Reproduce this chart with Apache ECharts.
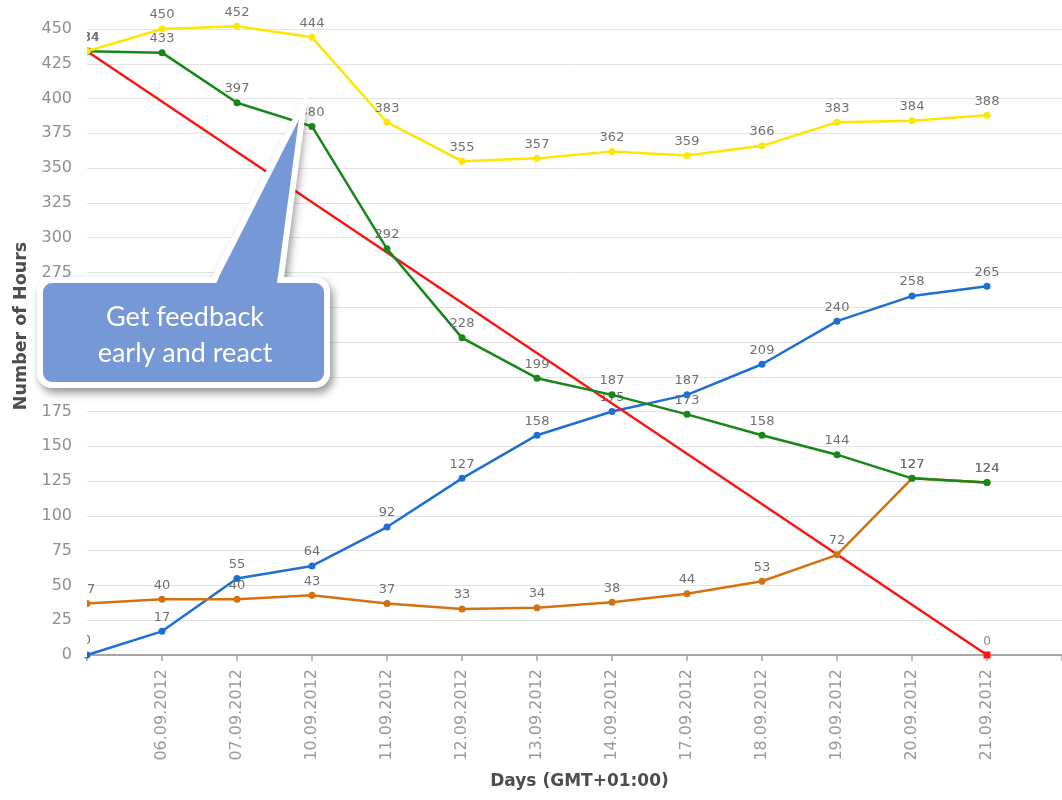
<!DOCTYPE html>
<html>
<head>
<meta charset="utf-8">
<script src="https://cdn.jsdelivr.net/npm/echarts@6/dist/echarts.min.js"></script>
<style>
  html, body { margin: 0; padding: 0; background: #fff; }
  #chart { width: 1062px; height: 800px; }
</style>
</head>
<body>
<div id="chart"></div>
<script>
// Sprint days (working days only); trailing blank slot lets the axis run on past the last day
const days = ['05.09.2012', '06.09.2012', '07.09.2012', '10.09.2012', '11.09.2012', '12.09.2012',
  '13.09.2012', '14.09.2012', '17.09.2012', '18.09.2012', '19.09.2012', '20.09.2012', '21.09.2012', ''];

// Ideal burndown: straight line from the starting estimate to zero
const idealHours = [434, null, null, null, null, null, null, null, null, null, null, null, 0];
// Hours still remaining
const remainingHours = [434, 433, 397, 380, 292, 228, 199, 187, 173, 158, 144, 127, 124];
// Total estimated hours
const estimatedHours = [434, 450, 452, 444, 383, 355, 357, 362, 359, 366, 383, 384, 388];
// Hours spent so far
const spentHours = [0, 17, 55, 64, 92, 127, 158, 175, 187, 209, 240, 258, 265];
// Hours outside the plan
const extraHours = [37, 40, 40, 43, 37, 33, 34, 38, 44, 53, 72, 127, 124];

const Y_MIN = 0, Y_MAX = 450, Y_STEP = 25;

const GRID_LEFT = 87, GRID_TOP = 29, GRID_H = 626, STEP_X = 75.82;

const BUBBLE_FILL = '#7698d6';
const BUBBLE_SHADOW = {
  shadowBlur: 9,
  shadowColor: 'rgba(0,0,0,0.42)',
  shadowOffsetX: 3,
  shadowOffsetY: 5
};

const labelStyle = {
  show: true,
  position: 'top',
  distance: 4,
  color: '#707070',
  fontFamily: 'DejaVu Sans',
  fontSize: 13
};

function lineSeries(name, data, color, z, extra) {
  return Object.assign({
    name: name,
    type: 'line',
    data: data,
    z: z,
    clip: false,
    symbol: 'circle',
    symbolSize: 7,
    lineStyle: { color: color, width: 2.5 },
    itemStyle: { color: color },
    label: labelStyle,
    emphasis: { disabled: true },
    animation: false
  }, extra || {});
}

const chart = echarts.init(document.getElementById('chart'), null, { renderer: 'canvas' });

const pointer = [[212, 284], [304, 103], [280, 284]];

chart.setOption({
  backgroundColor: '#ffffff',
  animation: false,
  grid: {
    left: GRID_LEFT,
    top: GRID_TOP,
    width: STEP_X * (days.length - 1),
    height: GRID_H,
    containLabel: false
  },
  xAxis: {
    type: 'category',
    data: days,
    boundaryGap: false,
    offset: 6,
    name: 'Days (GMT+01:00)',
    nameLocation: 'middle',
    nameGap: 112,
    nameTextStyle: {
      color: '#4d4d4d', fontFamily: 'DejaVu Sans', fontWeight: 'bold', fontSize: 17,
      padding: [0, 0, 0, 10]
    },
    axisLine: { show: true, lineStyle: { color: '#a6a6a6', width: 2 } },
    axisTick: { show: true, interval: 0, length: 6, lineStyle: { color: '#a6a6a6', width: 1.5 } },
    axisLabel: {
      rotate: 90,
      margin: 8,
      color: '#9a9a9a',
      fontFamily: 'DejaVu Sans',
      fontSize: 16,
      interval: function (i, v) { return i > 0 && v !== ''; }
    },
    splitLine: { show: false }
  },
  yAxis: {
    type: 'value',
    min: Y_MIN,
    max: Y_MAX,
    interval: Y_STEP,
    name: 'Number of Hours',
    nameLocation: 'middle',
    nameGap: 56,
    nameRotate: 90,
    nameTextStyle: {
      color: '#4d4d4d', fontFamily: 'DejaVu Sans', fontWeight: 'bold', fontSize: 17.5,
      padding: [0, 0, 0, 32]
    },
    axisLine: { show: false },
    axisTick: { show: false },
    axisLabel: { color: '#8f8f8f', fontFamily: 'DejaVu Sans', fontSize: 16, margin: 15 },
    splitLine: { lineStyle: { color: '#e3e3e3', width: 1 } }
  },
  series: [
    lineSeries('Spent', spentHours, '#1e6fd4', 2),
    lineSeries('Ideal', idealHours, '#ff1414', 3, {
      connectNulls: true,
      symbol: 'rect',
      symbolSize: 7,
      label: Object.assign({}, labelStyle, { fontSize: 12, color: '#8a8a8a' })
    }),
    lineSeries('Extra', extraHours, '#d4720f', 4),
    lineSeries('Remaining', remainingHours, '#178717', 5),
    lineSeries('Estimated', estimatedHours, '#ffe600', 6)
  ],
  graphic: [
    // clip anything spilling left of the plot area
    {
      type: 'rect',
      z: 100,
      silent: true,
      shape: { x: 74, y: 0, width: GRID_LEFT - 74, height: GRID_TOP + GRID_H + 2 },
      style: { fill: '#ffffff' }
    },
    // speech bubble: shadow layer first
    {
      type: 'polygon',
      z: 105,
      silent: true,
      shape: { points: [[208, 284], [304, 98], [283, 284]] },
      style: Object.assign({ fill: '#ffffff' }, BUBBLE_SHADOW)
    },
    {
      type: 'rect',
      z: 106,
      silent: true,
      shape: { x: 37, y: 277, width: 293, height: 111, r: 15 },
      style: Object.assign({ fill: '#ffffff' }, BUBBLE_SHADOW)
    },
    // pointer and body, then a patch hiding the seam between them
    {
      type: 'polygon',
      z: 110,
      silent: true,
      shape: { points: pointer },
      style: { fill: BUBBLE_FILL, stroke: '#ffffff', lineWidth: 6, lineJoin: 'miter' }
    },
    {
      type: 'rect',
      z: 111,
      silent: true,
      shape: { x: 40, y: 280, width: 287, height: 105, r: 12 },
      style: { fill: BUBBLE_FILL, stroke: '#ffffff', lineWidth: 6 }
    },
    {
      type: 'polygon',
      z: 112,
      silent: true,
      shape: { points: [[219.2, 276.5], [277.5, 276.5], [277, 284.5], [215.8, 284.5]] },
      style: { fill: BUBBLE_FILL }
    },
    {
      type: 'text',
      z: 120,
      silent: true,
      x: 185,
      y: 335,
      style: {
        text: 'Get feedback\nearly and react',
        fill: '#ffffff',
        font: '27px Lato',
        textAlign: 'center',
        textVerticalAlign: 'middle',
        lineHeight: 36
      }
    }
  ]
});
</script>
</body>
</html>
